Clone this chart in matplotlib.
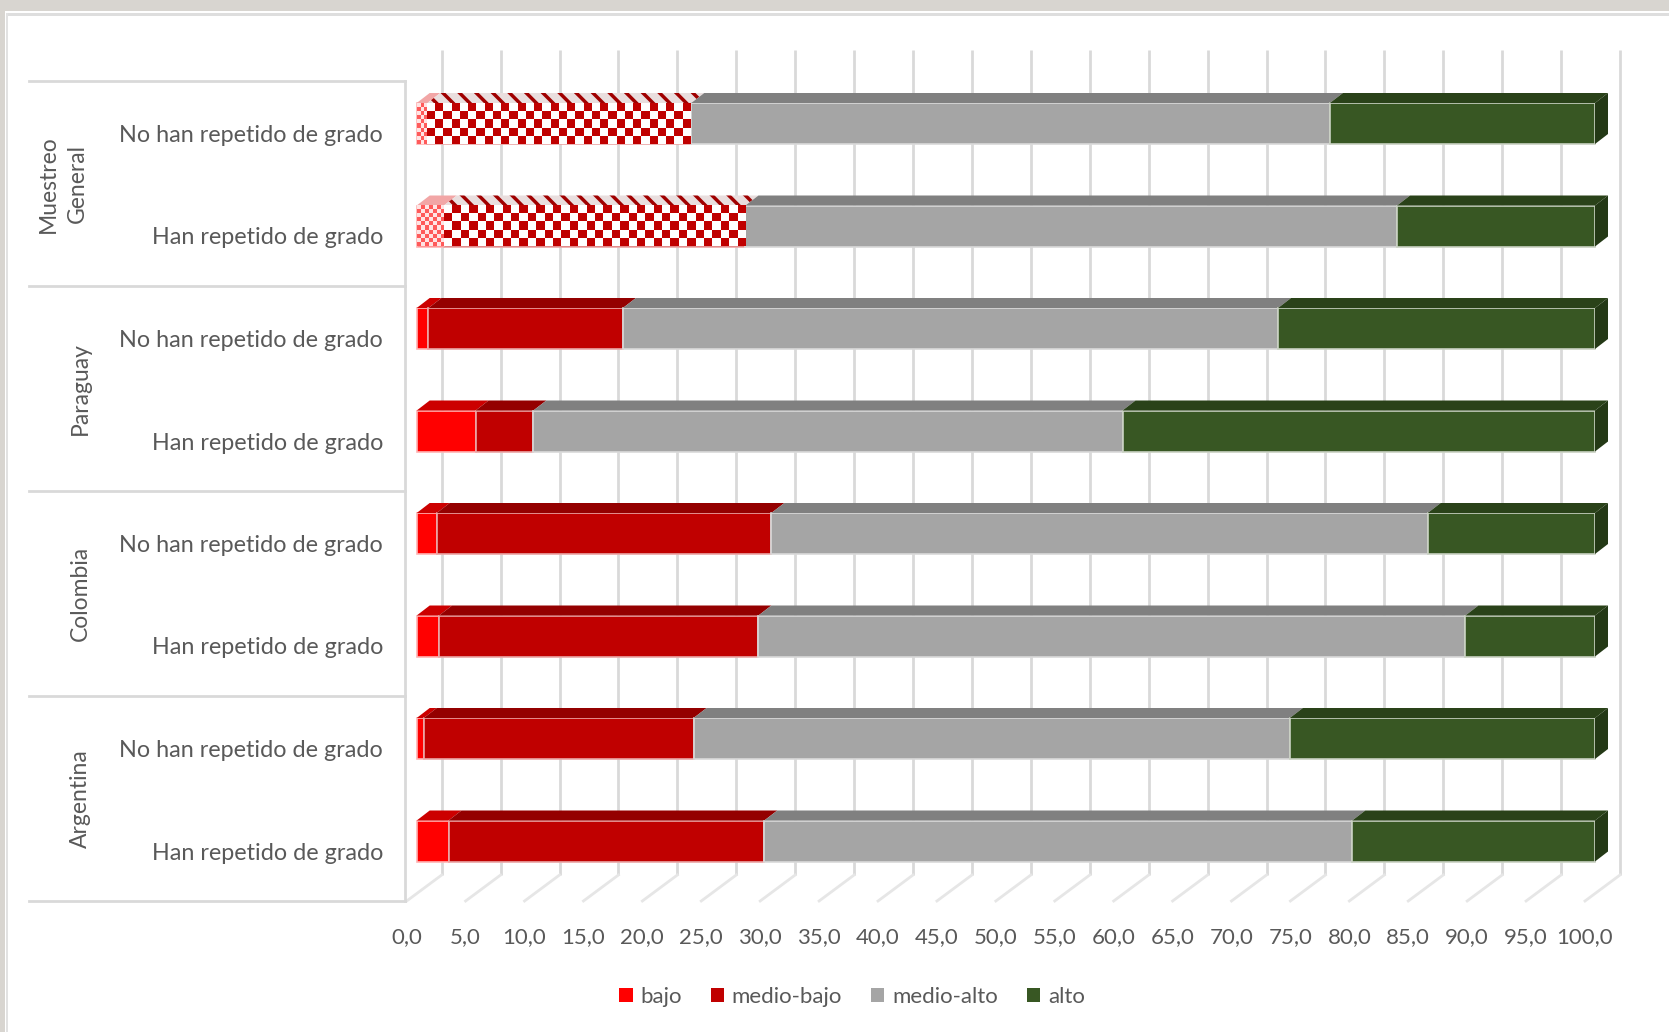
import numpy as np
import matplotlib.pyplot as plt
from matplotlib.patches import Polygon, Rectangle, Patch
from matplotlib.colors import to_rgb

plt.rcParams['font.family'] = ['Lato', 'DejaVu Sans']
plt.rcParams['hatch.linewidth'] = 2.5

# datos (porcentaje por nivel)
grupos = ['Muestreo\nGeneral', 'Paraguay', 'Colombia', 'Argentina']
filas = ['No han repetido de grado', 'Han repetido de grado'] * 4
niveles = ['bajo', 'medio-bajo', 'medio-alto', 'alto']
bajo = [0.9, 2.3, 1.0, 5.0, 1.7, 1.9, 0.6, 2.7]
medio_bajo = [22.4, 25.6, 16.5, 4.9, 28.4, 27.1, 22.9, 26.8]
medio_alto = [54.2, 55.3, 55.6, 50.0, 55.7, 60.0, 50.6, 49.9]
alto = [22.5, 16.8, 26.9, 40.1, 14.2, 11.0, 25.9, 20.6]
ticks = np.arange(0, 101, 5)
patron = [True, True, False, False, False, False, False, False]  # filas con relleno a cuadros

colores = ['#ff0000', '#c00000', '#a5a5a5', '#385723']
techo = ['#cc0000', '#940000', '#808080', '#2a4219']
borde = ['#ffb3b3', '#eaa6a6', '#d9d9d9', '#c9d1c2']
gris_txt = '#595959'

W, H = 1669, 1032
fig = plt.figure(figsize=(W / 100, H / 100), dpi=100)
ax = fig.add_axes([0, 0, 1, 1])

# mapeo pixel -> datos (vista 3D de Excel aplanada)
X0, PX = 416.7, 11.783
Y0, PY = 132.5, 102.5
def fx(p):
    return (p - X0) / PX
def fy(p):
    return (p - Y0) / PY

# marco de la imagen
fig.add_artist(Rectangle((0, 1 - 11 / H), 1, 11 / H, transform=fig.transFigure, color='#d8d5d0', lw=0))
fig.add_artist(Rectangle((6 / W, 1 - 16 / H), 1, 3 / H, transform=fig.transFigure, color='#dedede', lw=0))
fig.add_artist(Rectangle((0, 0), 5 / W, 1, transform=fig.transFigure, color='#d8d5d0', lw=0))
fig.add_artist(Rectangle((6 / W, 0), 2 / W, 1 - 13 / H, transform=fig.transFigure, color='#e2e2e2', lw=0))

# pared del fondo y suelo
wall_dx = 25 / PX
floor_dx = -35 / PX
for v in ticks:
    ax.plot([v + wall_dx] * 2, [fy(50), fy(875)], color='#d9d9d9', lw=2, zorder=1, solid_capstyle='butt')
    ax.plot([v + wall_dx, v + wall_dx + floor_dx], [fy(875), fy(901)], color='#e6e6e6', lw=2, zorder=1)
    ax.text(v + wall_dx + floor_dx, fy(937), f'{v:.1f}'.replace('.', ','), ha='center', va='center',
            fontsize=16, color=gris_txt)

# tabla de categorias a la izquierda
for g in range(len(grupos) + 1):
    ax.plot([fx(29), fx(405)], [2 * g - 0.5] * 2, color='#d9d9d9', lw=2, zorder=1)
ax.plot([fx(405)] * 2, [-0.5, 7.5], color='#d9d9d9', lw=2, zorder=1)
for g, nombre in enumerate(grupos):
    xp = 63 if '\n' in nombre else 80
    ax.text(fx(xp), 2 * g + 0.5, nombre, rotation=90, ha='center', va='center', fontsize=16.5,
            color=gris_txt, linespacing=1.5, multialignment='center')
for i, f in enumerate(filas):
    ax.text(fx(383), i + 3 / PY, f, ha='right', va='center', fontsize=16.8, color=gris_txt)

# barras
series = [bajo, medio_bajo, medio_alto, alto]
n = len(filas)
ybar = np.arange(n) - 9 / PY
h = 41 / PY
dx, dy = 13 / PX, 10 / PY
lefts = np.zeros(n)
for k, vals in enumerate(series):
    vals = np.array(vals)
    ax.barh(ybar, vals, left=lefts, height=h, color=colores[k], edgecolor=borde[k], lw=1.2, zorder=3)
    for i in range(n):
        L, Wd = lefts[i], vals[i]
        yt = ybar[i] - h / 2
        top = [(L, yt), (L + Wd, yt), (L + Wd + dx, yt - dy), (L + dx, yt - dy)]
        if patron[i] and k == 1:
            ax.add_patch(Polygon(top, closed=True, facecolor='#e9dede', edgecolor='#a00000',
                                 hatch='\\\\', lw=0, zorder=3))
        elif patron[i] and k == 0:
            ax.add_patch(Polygon(top, closed=True, facecolor='#f2a6a6', lw=0, zorder=3))
        else:
            ax.add_patch(Polygon(top, closed=True, facecolor=techo[k], lw=0, zorder=3))
        if k == len(series) - 1:
            R = L + Wd
            yb = ybar[i] + h / 2
            ax.add_patch(Polygon([(R, yt), (R + dx, yt - dy), (R + dx, yb - dy), (R, yb)],
                                 closed=True, facecolor='#243916', lw=0, zorder=3))
        if patron[i] and k < 2:
            cell = 8.3 if k == 1 else 4.1
            c1, c2 = ('#c00000', '#ffffff') if k == 1 else ('#ff5a5a', '#ffe4e4')
            nc = max(1, int(round(Wd * PX / cell)))
            nr = max(1, int(round(h * PY / cell)))
            board = np.indices((nr, nc)).sum(0) % 2
            img = np.where(board[..., None] == 1, to_rgb(c1), to_rgb(c2))
            ax.imshow(img, extent=(L, L + Wd, ybar[i] + h / 2, ybar[i] - h / 2), aspect='auto',
                      interpolation='nearest', zorder=4)
    lefts = lefts + vals

ax.set_xlim(fx(0), fx(W))
ax.set_ylim(fy(H), fy(0))
ax.axis('off')

handles = [Patch(facecolor=c, lw=0) for c in colores]
fig.legend(handles, niveles, loc='center', bbox_to_anchor=(852 / W, 1 - 997 / H), ncol=4, frameon=False,
           fontsize=16, handlelength=0.6, handleheight=0.6, handletextpad=0.35, columnspacing=1.3,
           labelcolor=gris_txt)

fig.savefig('out.png', dpi=100)
